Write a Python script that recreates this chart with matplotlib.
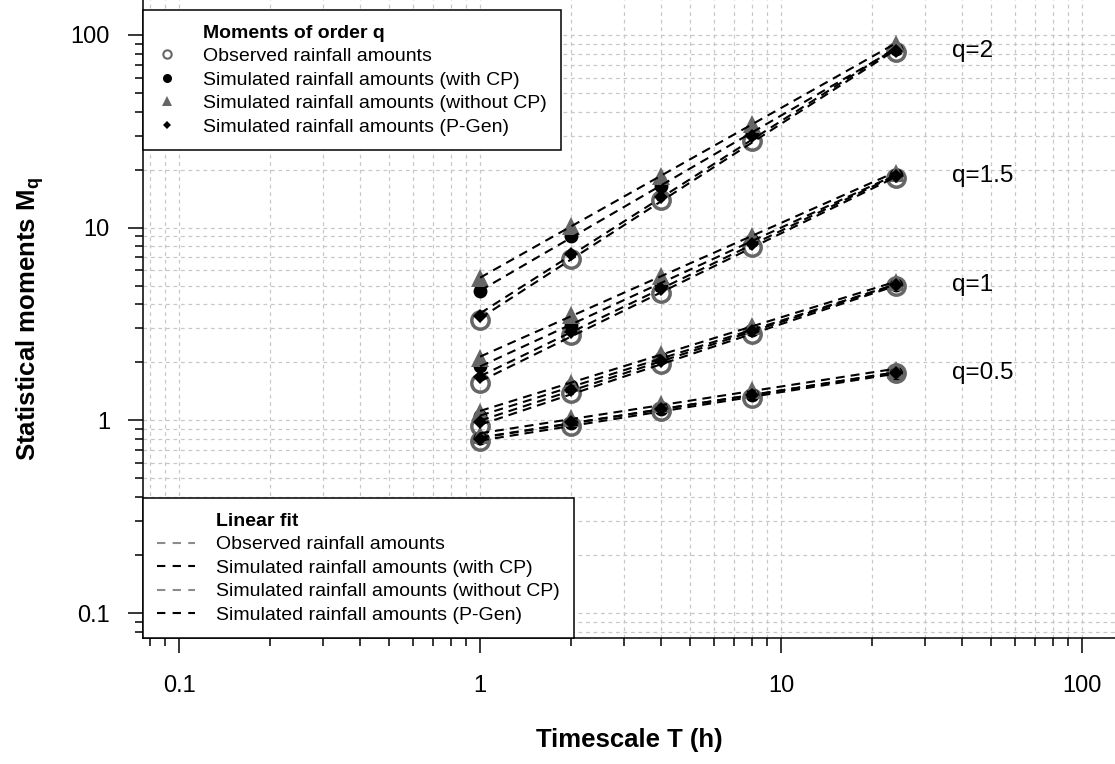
import matplotlib
matplotlib.use("Agg")
import matplotlib.pyplot as plt
from matplotlib.lines import Line2D
from matplotlib.ticker import LogLocator, FuncFormatter, NullFormatter
import numpy as np

plt.rcParams['font.family'] = ['Liberation Sans', 'DejaVu Sans']
plt.rcParams['mathtext.fontset'] = 'custom'
plt.rcParams['mathtext.rm'] = 'Liberation Sans'
plt.rcParams['mathtext.bf'] = 'Liberation Sans:bold'

# --- data ---
timescales = [1, 2, 4, 8, 24]
q_labels = ["q=2", "q=1.5", "q=1", "q=0.5"]

# rows: q=2, q=1.5, q=1, q=0.5 ; columns: T = 1, 2, 4, 8, 24 h
observed = [[3.31, 6.9, 13.9, 28.1, 82.0],
            [1.57, 2.77, 4.6, 7.9, 18.2],
            [0.93, 1.39, 1.97, 2.81, 4.95],
            [0.78, 0.94, 1.12, 1.31, 1.75]]
with_cp = [[4.68, 9.0, 16.4, 31.0, 85.0],
           [1.92, 3.12, 5.1, 8.6, 18.8],
           [1.05, 1.50, 2.10, 2.95, 5.05],
           [0.81, 0.97, 1.15, 1.35, 1.77]]
without_cp = [[5.46, 10.2, 18.6, 34.5, 90.0],
              [2.11, 3.52, 5.6, 9.1, 19.3],
              [1.11, 1.57, 2.21, 3.09, 5.2],
              [0.84, 1.03, 1.21, 1.43, 1.83]]
pgen = [[3.48, 7.26, 14.5, 29.8, 82.7],
        [1.68, 2.88, 4.8, 8.27, 18.5],
        [0.98, 1.44, 2.04, 2.91, 5.02],
        [0.80, 0.98, 1.14, 1.35, 1.77]]

series_names = ["Observed rainfall amounts",
                "Simulated rainfall amounts (with CP)",
                "Simulated rainfall amounts (without CP)",
                "Simulated rainfall amounts (P-Gen)"]

GREY = '#666666'
LGREY = '#8c8c8c'

marker_styles = [
    dict(marker='o', ms=12.5, mfc='none', mec=GREY, mew=2.5),
    dict(marker='o', ms=10, mfc='black', mec='black', mew=0),
    dict(marker='^', ms=13, mfc=GREY, mec=GREY, mew=0),
    dict(marker='D', ms=7, mfc='black', mec='black', mew=0),
]
fit_colors = [LGREY, 'black', LGREY, 'black']

fig = plt.figure(figsize=(11.15, 7.64), dpi=100)
ax = fig.add_axes([143 / 1115, 126 / 764, 972 / 1115, 638 / 764])
ax.set_xscale('log')
ax.set_yscale('log')
ax.set_xlim(0.0759, 128.6)
ax.set_ylim(0.0742, 151.8)

ax.set_axisbelow(True)
ax.grid(True, which='both', color='#c8c8c8', linestyle=(0, (3, 3)), linewidth=0.9)

T = np.array(timescales, dtype=float)
all_series = [observed, with_cp, without_cp, pgen]

# points
for data, st in zip(all_series, marker_styles):
    for row in data:
        ax.plot(T, row, linestyle='none', zorder=3, **st)

# linear fits in log-log space
for data in all_series:
    for row in data:
        coef = np.polyfit(np.log10(T), np.log10(row), 1)
        xs = np.array([T[0], T[-1]])
        ys = 10 ** np.polyval(coef, np.log10(xs))
        ax.plot(xs, ys, color='black', lw=1.5, linestyle=(0, (4.3, 2.9)), zorder=4)

for lab, row in zip(q_labels, pgen):
    ax.text(37, row[-1], lab, fontsize=17.5, ha='left', va='center')

# axes styling
for s in ['top', 'right']:
    ax.spines[s].set_visible(False)
for s in ['left', 'bottom']:
    ax.spines[s].set_linewidth(1.1)

fmt = FuncFormatter(lambda v, p: f"{v:g}")
for axis in (ax.xaxis, ax.yaxis):
    axis.set_major_locator(LogLocator(base=10, numticks=10))
    axis.set_minor_locator(LogLocator(base=10, subs=np.arange(2, 10), numticks=20))
    axis.set_major_formatter(fmt)
    axis.set_minor_formatter(NullFormatter())
ax.tick_params(which='major', length=10.8, width=1.1, labelsize=17)
ax.tick_params(which='minor', length=5.8, width=1.1)
ax.tick_params(axis='y', which='major', pad=13)
ax.tick_params(axis='x', which='major', pad=16)

fig.text(629 / 1115, 1 - 740 / 764, "Timescale T (h)", fontsize=18.5,
         fontweight='bold', ha='center', va='center')
fig.text(30 / 1115, 1 - 319 / 764, r"Statistical moments $\mathbf{M_q}$",
         fontsize=18.5, fontweight='bold', rotation=90, ha='center', va='center')

# legend 1: markers
h1 = [Line2D([], [], linestyle='none')]
h1 += [Line2D([], [], linestyle='none', marker='o', ms=6, mfc='none', mec=GREY, mew=1.5),
       Line2D([], [], linestyle='none', marker='o', ms=6.5, mfc='black', mec='black', mew=0),
       Line2D([], [], linestyle='none', marker='^', ms=7.5, mfc=GREY, mec=GREY, mew=0),
       Line2D([], [], linestyle='none', marker='D', ms=4.5, mfc='black', mec='black', mew=0)]
leg1 = ax.legend(h1, ["Moments of order q"] + series_names, loc='upper left',
                 bbox_to_anchor=(0, 1 - 10 / 638), borderaxespad=0, fontsize=14,
                 frameon=True, fancybox=False, edgecolor='black', framealpha=1,
                 borderpad=0.73, handlelength=1.0, handletextpad=1.36, labelspacing=0.3)
leg1.get_frame().set_linewidth(1.1)
leg1.get_texts()[0].set_fontweight('bold')
ax.add_artist(leg1)

# legend 2: fit lines
h2 = [Line2D([], [], linestyle='none')]
for c in fit_colors:
    h2.append(Line2D([], [], color=c, lw=1.5, linestyle=(0, (4, 3.5))))
leg2 = ax.legend(h2, ["Linear fit"] + series_names, loc='lower left',
                 bbox_to_anchor=(0, 0), borderaxespad=0, fontsize=14,
                 frameon=True, fancybox=False, edgecolor='black', framealpha=1,
                 borderpad=0.73, handlelength=1.95, handletextpad=1.07, labelspacing=0.3)
leg2.get_frame().set_linewidth(1.1)
leg2.get_texts()[0].set_fontweight('bold')

fig.savefig("out.png", dpi=100)
